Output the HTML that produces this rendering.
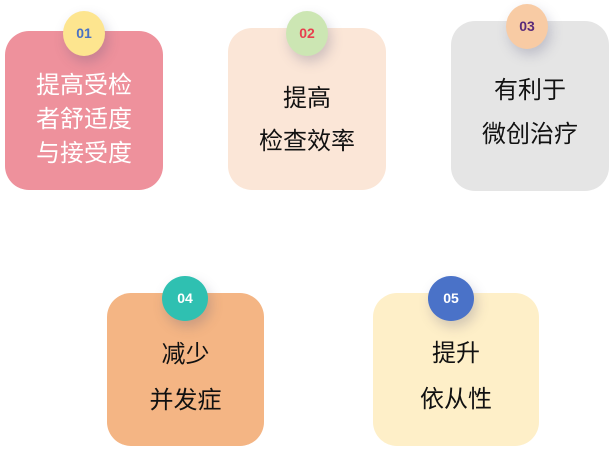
<!DOCTYPE html>
<html><head><meta charset="utf-8"><style>
body{margin:0;width:615px;height:450px;background:#fff;position:relative;overflow:hidden;font-family:"Liberation Sans","Noto Sans CJK SC",sans-serif}
.b{position:absolute;border-radius:24px}
.c{position:absolute;border-radius:50%;text-align:center;font-family:"Liberation Sans",sans-serif;font-weight:bold;font-size:14px;box-shadow:3px 6px 12px rgba(80,80,120,0.25)}
.t{position:absolute;width:100%;text-align:center;font-size:24px;color:#111}
</style></head><body>
<div class="b" style="left:5px;top:31px;width:158px;height:159px;background:#ee919c">
<div class="t" style="top:38px;line-height:34px;color:#fff">提高受检<br>者舒适度<br>与接受度</div></div>
<div class="c" style="left:63px;top:11px;width:42px;height:45px;line-height:45px;background:#fde58f;color:#4a72c4">01</div>

<div class="b" style="left:228px;top:28px;width:158px;height:162px;background:#fbe6d7">
<div class="t" style="top:49px;line-height:43px">提高<br>检查效率</div></div>
<div class="c" style="left:286px;top:11px;width:42px;height:45px;line-height:45px;background:#cce6b3;color:#e8404f">02</div>

<div class="b" style="left:451px;top:21px;width:158px;height:170px;background:#e5e5e5">
<div class="t" style="top:48px;line-height:44px">有利于<br>微创治疗</div></div>
<div class="c" style="left:506px;top:4px;width:42px;height:45px;line-height:45px;background:#f8cba4;color:#5a2b7a">03</div>

<div class="b" style="left:107px;top:293px;width:157px;height:153px;background:#f4b584">
<div class="t" style="top:39px;line-height:46px">减少<br>并发症</div></div>
<div class="c" style="left:162px;top:276px;width:46px;height:45px;line-height:45px;background:#2fc0b1;color:#fff">04</div>

<div class="b" style="left:373px;top:293px;width:166px;height:153px;background:#feefc8">
<div class="t" style="top:38px;line-height:46px">提升<br>依从性</div></div>
<div class="c" style="left:428px;top:276px;width:46px;height:45px;line-height:45px;background:#4a72c8;color:#fff">05</div>
</body></html>
